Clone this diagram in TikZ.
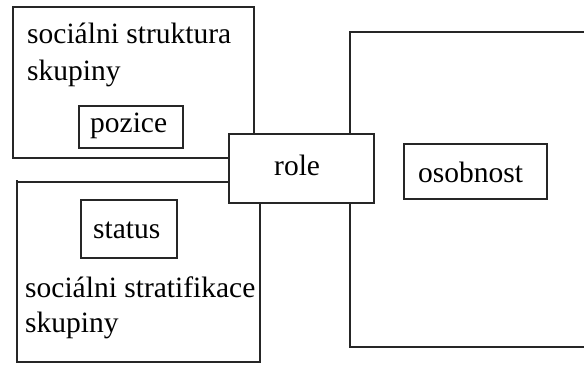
\documentclass[tikz,border=0pt]{standalone}
\usepackage{fontspec}
\setmainfont{Liberation Serif}
\begin{document}
\begin{tikzpicture}[x=1pt,y=-1pt,
  box/.style={draw=black!85, line width=1.3pt, inner sep=0pt, outer sep=0pt, anchor=north west, fill=white},
  txt/.style={font=\fontsize{29.5}{36}\selectfont, inner sep=0pt, anchor=base west, text=black}]
\useasboundingbox (0,0) rectangle (584,365);
\clip (0,0) rectangle (584,365);
% large boxes
\node[box, minimum width=241pt, minimum height=151pt] (struct) at (13,7) {};
\node[box, minimum width=243pt, minimum height=180pt] (strat) at (17,182) {};
\draw[draw=black!85, line width=1.3pt] (strat.north west) -- ++(0,-2);
\node[box, minimum width=260pt, minimum height=315pt] (osob) at (350,32) {};
% role box on top
\node[box, minimum width=145pt, minimum height=69pt] (role) at (229,134) {};
% inner boxes
\node[box, minimum width=104pt, minimum height=42pt] (pozice) at (79,106) {};
\node[box, minimum width=96pt, minimum height=58pt] (status) at (81,200) {};
\node[box, minimum width=143pt, minimum height=55pt] (osobbox) at (404,144) {};
% texts
\node[txt] (t1) at (27,43) {sociálni struktura};
\node[txt] (t2) at (27,80) {skupiny};
\node[txt] (t3) at (90,132) {pozice};
\node[txt] (t4) at (274,175) {role};
\node[txt] (t5) at (418,182) {osobnost};
\node[txt] (t6) at (93,238) {status};
\node[txt] (t7) at (25,297) {sociálni stratifikace};
\node[txt] (t8) at (25,332) {skupiny};
\end{tikzpicture}
\end{document}
